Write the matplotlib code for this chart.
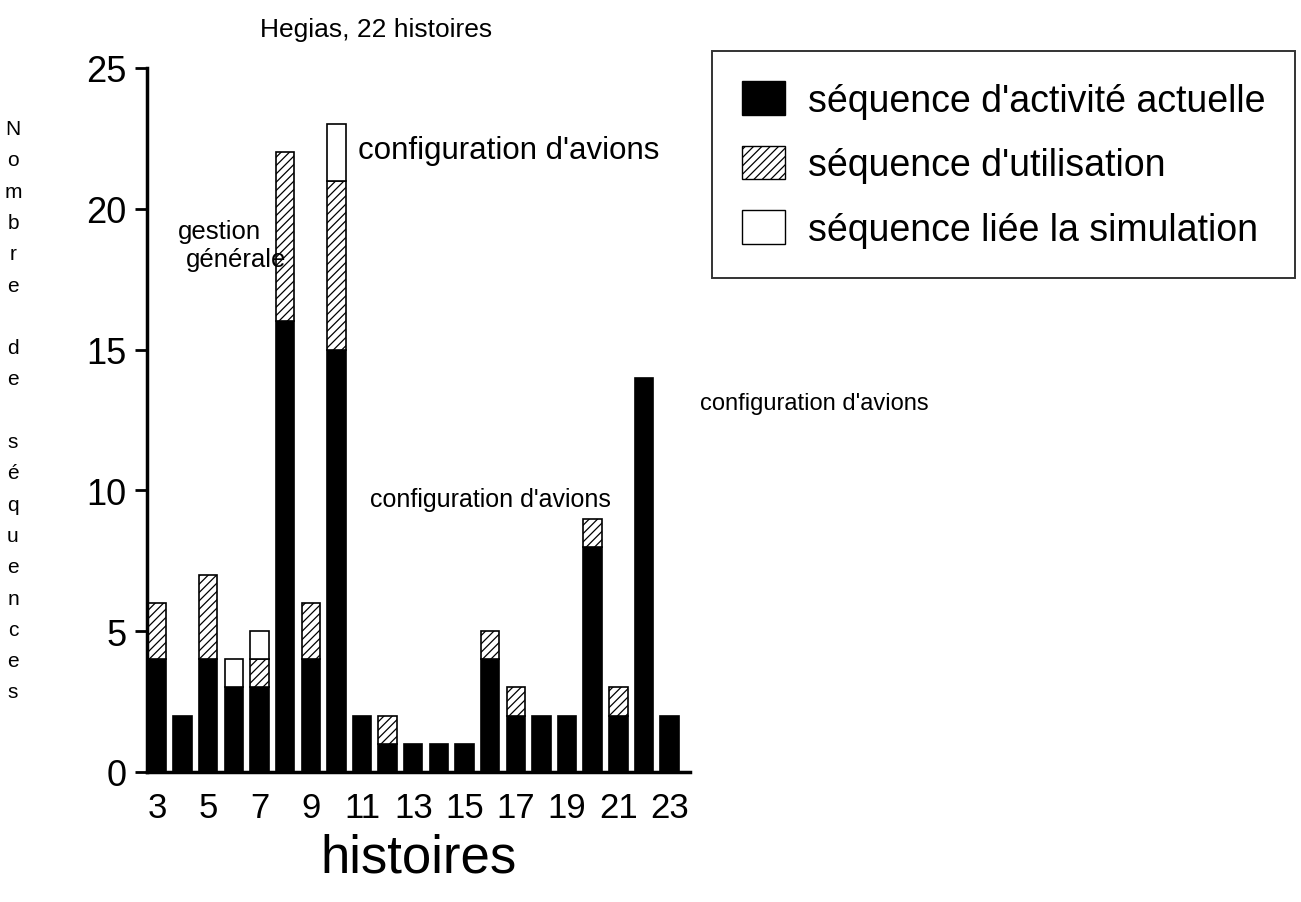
import numpy as np
import matplotlib
matplotlib.use('Agg')
import matplotlib.pyplot as plt
from matplotlib.patches import Patch

# donnees
histoires = np.arange(3, 24)
seq_activite = np.array([4, 2, 4, 3, 3, 16, 4, 15, 2, 1, 1, 1, 1, 4, 2, 2, 2, 8, 2, 14, 2])
seq_utilisation = np.array([2, 0, 3, 0, 1, 6, 2, 6, 0, 1, 0, 0, 0, 1, 1, 0, 0, 1, 1, 0, 0])
seq_simulation = np.array([0, 0, 0, 1, 1, 0, 0, 2, 0, 0, 0, 0, 0, 0, 0, 0, 0, 0, 0, 0, 0])
xticks = [3, 5, 7, 9, 11, 13, 15, 17, 19, 21, 23]
yticks = [0, 5, 10, 15, 20, 25]

plt.rcParams['font.family'] = ['Liberation Sans', 'DejaVu Sans']
plt.rcParams['hatch.linewidth'] = 0.9

fig = plt.figure(figsize=(13.01, 9.03), dpi=100)
ax = fig.add_axes([0.113, 0.144, 0.417, 0.7796])

w = 0.72
m = seq_activite > 0
ax.bar(histoires[m], seq_activite[m], width=w, color='black', edgecolor='black', linewidth=1.2)
m = seq_utilisation > 0
ax.bar(histoires[m], seq_utilisation[m], width=w, bottom=seq_activite[m],
       color='white', edgecolor='black', hatch='////', linewidth=1.2)
m = seq_simulation > 0
ax.bar(histoires[m], seq_simulation[m], width=w, bottom=(seq_activite + seq_utilisation)[m],
       color='white', edgecolor='black', linewidth=1.2)

ax.set_xlim(2.61, 23.78)
ax.set_ylim(0, 25)
ax.set_xticks(xticks)
ax.set_yticks(yticks)
ax.tick_params(axis='y', direction='out', length=9, width=2, labelsize=26, pad=6)
ax.tick_params(axis='x', length=0, labelsize=25, pad=14)
for s in ['top', 'right']:
    ax.spines[s].set_visible(False)
ax.spines['left'].set_linewidth(2.5)
ax.spines['bottom'].set_linewidth(2.5)

ax.set_xlabel('histoires', fontsize=38, labelpad=6)

# titre et libelle vertical
fig.text(376 / 1301, 1 - 30 / 903, 'Hegias, 22 histoires', fontsize=19, ha='center', va='center')
ylab = '\n'.join(list('Nombre de séquences'))
fig.text(13 / 1301, 1 - 120 / 903, ylab, fontsize=15, ha='center', va='top', linespacing=1.82)

# annotations
ax.text(5.45, 19.2, 'gestion', fontsize=18.5, ha='center', va='center')
ax.text(6.1, 18.2, 'générale', fontsize=18.5, ha='center', va='center')
ax.text(10.84, 22.1, "configuration d'avions", fontsize=22.5, ha='left', va='center')
ax.text(11.3, 9.7, "configuration d'avions", fontsize=18, ha='left', va='center')
ax.text(24.17, 13.1, "configuration d'avions", fontsize=17, ha='left', va='center', clip_on=False)

handles = [Patch(facecolor='black', edgecolor='black'),
           Patch(facecolor='white', edgecolor='black', hatch='////'),
           Patch(facecolor='white', edgecolor='black')]
labels = ["séquence d'activité actuelle", "séquence d'utilisation", "séquence liée la simulation"]
leg = fig.legend(handles, labels, loc='upper left', bbox_to_anchor=(712 / 1301, 1 - 52 / 903),
                 fontsize=27, frameon=True, fancybox=False, edgecolor='black',
                 handlelength=1.15, handleheight=1.0, labelspacing=0.72, borderpad=0.8,
                 handletextpad=0.6, borderaxespad=0)
leg.get_frame().set_linewidth(1.4)

fig.savefig('out.png', dpi=100)
